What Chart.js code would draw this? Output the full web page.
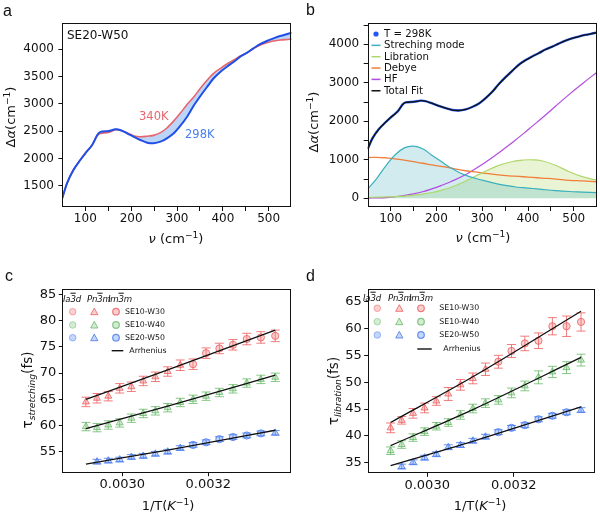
<!DOCTYPE html>
<html>
<head>
<meta charset="utf-8">
<script src="https://cdn.jsdelivr.net/npm/chart.js@4.4.0/dist/chart.umd.min.js"></script>
<style>
body{margin:0;background:#fff;font-family:'DejaVu Sans',sans-serif;color:#111}
#fig{position:relative;width:600px;height:513px;overflow:hidden;background:#fff}
.pane{position:absolute}
.t{position:absolute;white-space:nowrap;line-height:1}
.yl{transform:translate(-50%,-50%) rotate(-90deg)}
.xl{transform:translate(-50%,-50%)}
.m{transform:translateY(-50%)}
.lab{font-family:'Liberation Sans',Arial,sans-serif;font-size:16px}
.ob{text-decoration:overline}
sup{font-size:70%;vertical-align:0.45em;line-height:0}
sub{font-size:68%;vertical-align:-0.3em;line-height:0}
#ov{position:absolute;left:0;top:0;pointer-events:none}
</style>
</head>
<body>
<div id="fig">
  <div class="pane" style="left:0;top:0"><canvas id="ca" width="300" height="256"></canvas></div>
  <div class="pane" style="left:300px;top:0"><canvas id="cb" width="300" height="256"></canvas></div>
  <div class="pane" style="left:0;top:256px"><canvas id="cc" width="300" height="257"></canvas></div>
  <div class="pane" style="left:300px;top:256px"><canvas id="cd" width="300" height="257"></canvas></div>
  <svg id="ov" width="600" height="513"></svg>

  <div class="t lab" style="left:3px;top:3px">a</div>
  <div class="t lab" style="left:306px;top:2px">b</div>
  <div class="t lab" style="left:5px;top:268px">c</div>
  <div class="t lab" style="left:306px;top:268px">d</div>

  <div class="t yl" style="left:10px;top:117px;font-size:13px">Δ<i>α</i>(cm<sup>−1</sup>)</div>
  <div class="t xl" style="left:176px;top:238px;font-size:13px"><i>ν</i> (cm<sup>−1</sup>)</div>
  <div class="t yl" style="left:313px;top:122px;font-size:13px">Δ<i>α</i>(cm<sup>−1</sup>)</div>
  <div class="t xl" style="left:483px;top:237px;font-size:13px"><i>ν</i> (cm<sup>−1</sup>)</div>
  <div class="t yl" style="left:28px;top:390px;font-size:13.5px">τ<sub><i>stretching</i></sub>(fs)</div>
  <div class="t xl" style="left:168px;top:505px;font-size:13px">1/T(<i>K</i><sup>−1</sup>)</div>
  <div class="t yl" style="left:334px;top:391px;font-size:13.5px">τ<sub><i>libration</i></sub>(fs)</div>
  <div class="t xl" style="left:480px;top:505px;font-size:13px">1/T(<i>K</i><sup>−1</sup>)</div>

  <div class="t m" style="left:67px;top:35px;font-size:12px">SE20-W50</div>
  <div class="t m" style="left:139px;top:117px;font-size:11.5px;color:#e8656e">340K</div>
  <div class="t m" style="left:185px;top:135px;font-size:11.5px;color:#4a7ff0">298K</div>
  <div id="legs"></div>
</div>
<script>
// ---- panel a: absorption difference, SE20-W50 ----
const nuA = [50, 60, 74, 89, 100, 115, 126, 133, 151, 166, 176, 191, 205, 220, 235, 249, 264, 278, 293, 307, 322, 336, 351, 366, 380, 395, 409, 424, 438, 453, 467, 482, 496, 511, 525, 546, 550];
const abs298 = [1280, 1549, 1792, 1975, 2098, 2250, 2432, 2490, 2506, 2537, 2524, 2463, 2401, 2341, 2292, 2281, 2310, 2372, 2463, 2597, 2767, 2963, 3146, 3316, 3470, 3590, 3682, 3773, 3865, 3938, 4018, 4097, 4152, 4201, 4243, 4293, 4305];
const abs340 = [1280, 1549, 1792, 1975, 2098, 2250, 2420, 2460, 2480, 2530, 2520, 2475, 2420, 2400, 2410, 2425, 2475, 2560, 2690, 2830, 2990, 3122, 3287, 3438, 3561, 3652, 3731, 3804, 3877, 3938, 4018, 4079, 4121, 4152, 4170, 4183, 4190];

// ---- panel b: fit components at 298K ----
const nuB = [50, 70, 90, 110, 130, 150, 170, 190, 210, 230, 260, 300, 335, 370, 390, 410, 430, 460, 490, 520, 550];
const stretchB = [240, 520, 850, 1130, 1310, 1355, 1285, 1120, 960, 800, 615, 470, 370, 300, 275, 255, 232, 200, 176, 162, 147];
const librationB = [25, 30, 36, 44, 58, 80, 110, 150, 205, 275, 425, 660, 850, 965, 995, 1000, 975, 860, 690, 555, 470];
const debyeB = [1060, 1065, 1050, 1025, 990, 950, 910, 866, 828, 790, 722, 662, 606, 575, 560, 543, 525, 500, 468, 450, 430];
const hfB = [5, 10, 18, 40, 75, 115, 170, 245, 330, 425, 590, 880, 1170, 1490, 1680, 1880, 2080, 2390, 2700, 2990, 3270];

// ---- panels c, d: relaxation times vs 1/T ----
const tempsK = [343, 340, 337, 334, 331, 328, 325, 322, 319, 316, 313, 310, 307, 304, 301, 298];
const fitT = [343, 322, 298];
const phaseW30 = ['P','P','P','P','P','P','P','P','P','I','I','I','I','I','I','I'];
const phaseW40 = ['P','P','P','P','P','P','P','P','P','P','P','P','P','P','P','P'];
const phaseW50 = ['P','P','P','P','P','P','P','P','P','I','I','I','I','I','I','P'];

const tauStrW30 = [64.5, 65.2, 65.6, 67.1, 67.4, 68.5, 69.3, 70.3, 71.5, 71.7, 73.8, 74.7, 75.4, 76.5, 76.8, 77.1];
const errStrW30 = [0.9, 0.9, 0.9, 0.9, 0.9, 0.9, 0.9, 0.9, 1.0, 1.0, 1.0, 1.0, 1.0, 1.1, 1.1, 1.1];
const tauStrW40 = [59.8, 59.6, 60.1, 60.5, 61.4, 62.3, 62.8, 63.4, 64.4, 65.0, 65.6, 66.3, 67.0, 68.1, 68.8, 69.2];
const errStrW40 = [0.8, 0.8, 0.8, 0.8, 0.8, 0.8, 0.8, 0.8, 0.8, 0.8, 0.8, 0.8, 0.8, 0.8, 0.8, 0.8];
const tauStrW50 = [null, 53.1, 53.3, 53.5, 54.0, 54.2, 54.6, 55.0, 55.7, 56.3, 56.8, 57.4, 57.8, 58.1, 58.5, 58.6];
const errStrW50 = [0, 0.45, 0.45, 0.45, 0.45, 0.45, 0.45, 0.45, 0.45, 0.45, 0.45, 0.45, 0.45, 0.45, 0.45, 0.45];
const fitStrW30 = [65.0, 70.6, 78.2];
const fitStrW40 = [59.4, 63.7, 69.6];
const fitStrW50 = [52.65, 55.3, 59.1];

const tauLibW30 = [41.5, 42.9, 44.2, 45.2, 46.5, 47.8, 49.5, 50.7, 52.4, 53.8, 55.8, 57.2, 57.7, 60.4, 60.4, 61.2];
const errLibW30 = [0.9, 0.7, 0.9, 0.9, 0.8, 1.2, 1.0, 1.0, 1.15, 1.2, 1.2, 1.35, 1.45, 1.6, 1.9, 1.7];
const tauLibW40 = [37.25, 38.4, 39.7, 40.8, 41.8, 42.5, 43.9, 45.1, 46.1, 46.7, 48.0, 49.3, 50.9, 51.9, 52.7, 54.1];
const errLibW40 = [0.7, 0.7, 0.7, 0.7, 0.7, 0.7, 0.8, 0.8, 0.8, 0.8, 0.9, 0.9, 1.2, 1.05, 1.1, 1.1];
const tauLibW50 = [null, 34.3, 35.1, 35.95, 36.6, 37.9, 38.3, 39.1, 39.85, 40.7, 41.5, 42.0, 43.1, 43.75, 44.4, 44.8];
const errLibW50 = [0, 0.45, 0.45, 0.45, 0.45, 0.45, 0.45, 0.45, 0.45, 0.45, 0.45, 0.45, 0.45, 0.45, 0.45, 0.45];
const fitLibW30 = [42.5, 51.0, 63.2];
const fitLibW40 = [38.2, 44.9, 54.6];
const fitLibW50 = [34.5, 39.0, 45.4];

Chart.defaults.font.family = "'DejaVu Sans', sans-serif";
Chart.defaults.color = '#111';

const pts = (xs, ys) => xs.map((x, i) => ({ x: x, y: ys[i] }));

// box around the plotting area, matplotlib style
const frame = {
  id: 'frame',
  afterDraw(chart) {
    const { ctx, chartArea: a } = chart;
    ctx.save();
    ctx.strokeStyle = '#111';
    ctx.lineWidth = 1;
    ctx.strokeRect(Math.round(a.left) + 0.5, Math.round(a.top) + 0.5,
      Math.round(a.right - a.left) - 1, Math.round(a.bottom - a.top) - 1);
    ctx.restore();
  }
};

const errorBars = {
  id: 'errorBars',
  beforeDatasetsDraw(chart) {
    const { ctx } = chart;
    const ys = chart.scales.y;
    chart.data.datasets.forEach((ds, i) => {
      if (!ds.err) return;
      const meta = chart.getDatasetMeta(i);
      ctx.save();
      ctx.strokeStyle = ds.borderColor;
      ctx.lineWidth = 1;
      meta.data.forEach((p, j) => {
        const v = ds.data[j].y;
        if (v == null) return;
        const top = ys.getPixelForValue(v + ds.err[j]);
        const bot = ys.getPixelForValue(v - ds.err[j]);
        ctx.beginPath();
        ctx.moveTo(p.x, top); ctx.lineTo(p.x, bot);
        ctx.moveTo(p.x - 4.5, top); ctx.lineTo(p.x + 4.5, top);
        ctx.moveTo(p.x - 4.5, bot); ctx.lineTo(p.x + 4.5, bot);
        ctx.stroke();
      });
      ctx.restore();
    });
  }
};

function axis(min, max, tickVals, label, size, tickLen, pad, fit) {
  return {
    type: 'linear', min: min, max: max,
    afterBuildTicks: s => { s.ticks = tickVals.map(v => ({ value: v })); },
    afterFit: fit,
    grid: { drawOnChartArea: false, drawTicks: true, tickLength: tickLen, tickColor: '#111', tickWidth: 1 },
    border: { display: false },
    ticks: { color: '#111', font: { size: size }, padding: pad, autoSkip: false, maxRotation: 0, callback: label }
  };
}

function opts(box, xs, ys) {
  return {
    responsive: false, animation: false,
    layout: { padding: { left: 0, top: box.t, right: box.w - box.r, bottom: 0 } },
    plugins: { legend: { display: false }, tooltip: { enabled: false }, filler: { drawTime: 'beforeDatasetsDraw' } },
    elements: { point: { radius: 0 } },
    scales: { x: xs, y: ys }
  };
}

const range = (a, b, s) => { const r = []; for (let v = a; v <= b + 1e-9; v += s) r.push(v); return r; };
const hundreds = v => (v % 100 === 0 ? v : '');
const thousands = v => (v % 1000 === 0 ? v : '');
const fix4 = v => v.toFixed(4);

// ---- a ----
const boxA = { l: 62.4, r: 291.6, t: 23, b: 207, w: 300, h: 256 };
new Chart(document.getElementById('ca'), {
  type: 'line',
  data: { datasets: [
    { data: pts(nuA, abs298), borderColor: '#1f4fe6', borderWidth: 2, tension: 0.3 },
    { data: pts(nuA, abs340), borderColor: '#e8656e', borderWidth: 1.6, tension: 0.3,
      fill: { target: 0, above: 'rgba(150,190,245,0.65)', below: 'rgba(150,190,245,0.65)' } }
  ] },
  options: opts(boxA,
    axis(50, 550, range(100, 500, 50), hundreds, 12, 4, 1, s => { s.height = boxA.h - boxA.b; }),
    axis(1115, 4481, range(1500, 4000, 500), v => v, 12, 4, 4.5, s => { s.width = boxA.l; })),
  plugins: [frame]
});

// ---- b ----
const boxB = { l: 67.7, r: 296.7, t: 23, b: 207, w: 300, h: 256 };
new Chart(document.getElementById('cb'), {
  type: 'line',
  data: { datasets: [
    { data: pts(nuA, abs298), borderColor: '#111', borderWidth: 1.3, tension: 0.3 },
    { data: pts(nuA, abs298), borderColor: '#2457f2', borderWidth: 2.4, tension: 0.3 },
    { data: pts(nuB, stretchB), borderColor: '#3ab0bd', borderWidth: 1.2, tension: 0.4,
      fill: 'origin', backgroundColor: 'rgba(70,175,190,0.25)' },
    { data: pts(nuB, librationB), borderColor: '#afd76b', borderWidth: 1.2, tension: 0.4,
      fill: 'origin', backgroundColor: 'rgba(175,215,100,0.28)' },
    { data: pts(nuB, debyeB), borderColor: '#f07f3a', borderWidth: 1.3, tension: 0.4 },
    { data: pts(nuB, hfB), borderColor: '#b24de0', borderWidth: 1.2, tension: 0.4 }
  ] },
  options: opts(boxB,
    axis(50, 550, range(100, 500, 50), hundreds, 12, 4, 1, s => { s.height = boxB.h - boxB.b; }),
    axis(-226, 4553, range(0, 4500, 500), thousands, 12, 4, 4.5, s => { s.width = boxB.l; })),
  plugins: [frame]
});

// ---- c, d ----
const stroke = { W30: 'rgba(236,92,92,0.8)', W40: 'rgba(105,185,105,0.8)', W50: 'rgba(70,120,236,0.8)' };
const fillc = { W30: 'rgba(240,120,120,0.35)', W40: 'rgba(130,200,130,0.35)', W50: 'rgba(90,140,240,0.35)' };
const invT = tempsK.map(t => 1 / t);
const invFit = fitT.map(t => 1 / t);

function series(key, vals, errs, phase) {
  return { type: 'scatter', data: pts(invT, vals), err: errs,
    borderColor: stroke[key], backgroundColor: fillc[key], borderWidth: 1,
    pointStyle: phase.map(p => (p === 'P' ? 'triangle' : 'circle')),
    pointRadius: phase.map(p => (p === 'P' ? 4 : 3.6)) };
}
function fitLine(vals) {
  return { type: 'line', data: pts(invFit, vals), borderColor: '#111', borderWidth: 1.3,
    cubicInterpolationMode: 'monotone', pointRadius: 0 };
}

const boxC = { l: 62.3, r: 291.5, t: 32.7, b: 216.7, w: 300, h: 257 };
new Chart(document.getElementById('cc'), {
  type: 'scatter',
  data: { datasets: [
    fitLine(fitStrW30), fitLine(fitStrW40), fitLine(fitStrW50),
    series('W30', tauStrW30, errStrW30, phaseW30),
    series('W40', tauStrW40, errStrW40, phaseW40),
    series('W50', tauStrW50, errStrW50, phaseW50)
  ] },
  options: opts(boxC,
    axis(0.0028605, 0.0033935, [0.003, 0.0032], fix4, 13, 3.5, 1, s => { s.height = boxC.h - boxC.b; }),
    axis(51.0, 86.1, range(55, 85, 5), v => v, 13, 3.5, 2.5, s => { s.width = boxC.l; })),
  plugins: [frame, errorBars]
});

const boxD = { l: 67.7, r: 295.5, t: 33.3, b: 217.3, w: 300, h: 257 };
new Chart(document.getElementById('cd'), {
  type: 'scatter',
  data: { datasets: [
    fitLine(fitLibW30), fitLine(fitLibW40), fitLine(fitLibW50),
    series('W30', tauLibW30, errLibW30, phaseW30),
    series('W40', tauLibW40, errLibW40, phaseW40),
    series('W50', tauLibW50, errLibW50, phaseW50)
  ] },
  options: opts(boxD,
    axis(0.0028625, 0.003388, [0.003, 0.0032], fix4, 13, 3.5, 1, s => { s.height = boxD.h - boxD.b; }),
    axis(33.05, 67.27, range(35, 65, 5), v => v, 13, 3.5, 2.5, s => { s.width = boxD.l; })),
  plugins: [frame, errorBars]
});

// ---- legends (text as HTML, markers as SVG) ----
const svg = document.getElementById('ov');
const legs = document.getElementById('legs');
const NS = 'http://www.w3.org/2000/svg';
function shape(tag, attrs) {
  const e = document.createElementNS(NS, tag);
  for (const k in attrs) e.setAttribute(k, attrs[k]);
  svg.appendChild(e);
}
function text(html, x, y, size, extra) {
  const d = document.createElement('div');
  d.className = 't m';
  d.style.cssText = 'left:' + x + 'px;top:' + y + 'px;font-size:' + size + 'px;' + (extra || '');
  d.innerHTML = html;
  legs.appendChild(d);
}

const legB = [['T = 298K', '#2457f2', 'dot'], ['Streching mode', '#3ab0bd'], ['Libration', '#afd76b'],
  ['Debye', '#f07f3a'], ['HF', '#b24de0'], ['Total Fit', '#111']];
legB.forEach((r, i) => {
  const y = 34 + i * 11.35;
  if (r[2] === 'dot') shape('circle', { cx: 376, cy: y, r: 2.6, fill: r[1] });
  else shape('line', { x1: 371.5, x2: 380.5, y1: y, y2: y, stroke: r[1], 'stroke-width': 1.5 });
  text(r[0], 384, y, 10.2);
});

function tri(cx, cy, col, fill) {
  shape('polygon', { points: (cx - 3.6) + ',' + (cy + 3) + ' ' + (cx + 3.6) + ',' + (cy + 3) + ' ' + cx + ',' + (cy - 3.6),
    fill: fill, stroke: col, 'stroke-width': 1 });
}
function phaseLegend(hx, hy, cols, rows, labX, arr) {
  const hdr = ['Ia<span class="ob">3</span>d', 'Pn<span class="ob">3</span>m', 'Im<span class="ob">3</span>m'];
  hdr.forEach((h, i) => text(h, hx[i], hy, 8.6, 'font-style:italic;letter-spacing:-0.2px'));
  ['W30', 'W40', 'W50'].forEach((k, i) => {
    const y = rows[i];
    shape('circle', { cx: cols[0], cy: y, r: 3.3, fill: fillc[k], stroke: stroke[k], 'stroke-opacity': 0.6, 'stroke-width': 1 });
    tri(cols[1], y, stroke[k], fillc[k]);
    shape('circle', { cx: cols[2], cy: y, r: 3.3, fill: fillc[k], stroke: stroke[k], 'stroke-width': 1.2 });
    text(['SE10-W30', 'SE10-W40', 'SE20-W50'][i], labX, y, 7.8);
  });
  shape('line', { x1: arr[0], x2: arr[1], y1: arr[2], y2: arr[2], stroke: '#111', 'stroke-width': 1.4 });
  text('Arrhenius', arr[3], arr[2], 7.8);
}
phaseLegend([63, 87, 108], 299, [72.7, 94.3, 116], [311.7, 325, 337.7], 125, [111.7, 123.3, 350.7, 129.3]);
phaseLegend([363, 388, 409], 297.7, [377.3, 399.3, 421], [308.3, 321.7, 335], 439.3, [417.3, 431.7, 349, 443.3]);
</script>
</body>
</html>
